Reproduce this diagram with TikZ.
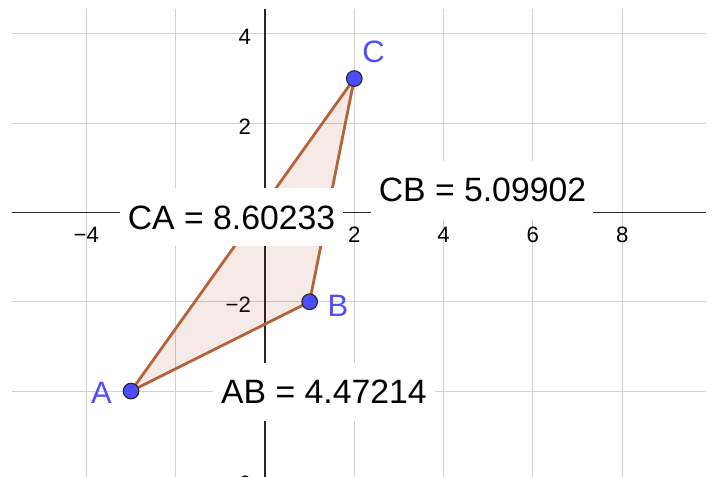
\documentclass[tikz,border=0pt]{standalone}
\usepackage{fontspec}
\setmainfont{Liberation Sans}
\definecolor{ptblue}{RGB}{77,77,255}
\definecolor{edgebrown}{RGB}{182,98,58}
\definecolor{polyfill}{RGB}{153,51,0}
\definecolor{gridgray}{RGB}{208,208,208}
\begin{document}
\begin{tikzpicture}[
x=1.116cm,
y=1.116cm,
tick/.style={
inner sep=0pt,
font=\fontsize{15.8}{18}\selectfont
},
valbox/.style={
rectangle,
fill=white,
inner sep=0pt,
minimum width=5.55cm,
minimum height=1.45cm,
font=\fontsize{24}{28}\selectfont
},
pt/.style={
circle,
draw=black!85,
line width=0.8pt,
fill=ptblue,
inner sep=0pt,
minimum size=0.39cm
},
ptlabel/.style={
inner sep=0pt,
text=ptblue,
font=\fontsize{22}{26}\selectfont
}
]

\useasboundingbox (-5.935,-5.924) rectangle (10.056,4.759);

% Grid
\foreach \gy in {-4,-2,2,4}
\draw[gridgray, line width=0.6pt] (-5.666,\gy) -- (9.877,\gy);
\foreach \gx in {-4,-2,2,4,6,8}
\draw[gridgray, line width=0.6pt] (\gx,-5.924) -- (\gx,4.557);

% Axes
\draw[black!85, line width=0.8pt] (-5.666,0) -- (9.877,0);
\draw[black!85, line width=0.8pt] (0,4.557) -- (0,-5.924);

% Tick labels
\foreach \tx/\tl in {-4/−4,2/2,4/4,6/6,8/8}
\node[tick] (xt\tx) at (\tx,-0.5) {\tl};
\foreach \ty/\tl in {4/4,2/2,-2/−2,-6/−6}
\node[tick, anchor=east] (yt\ty) at (-0.31,\ty-0.07) {\tl};

% Triangle
\coordinate (a) at (-3,-4);
\coordinate (b) at (1,-2);
\coordinate (c) at (2,3);
\fill[polyfill, fill opacity=0.1] (a) -- (b) -- (c) -- cycle;
\draw[edgebrown, line width=2pt, line join=round] (a) -- (b) -- (c) -- cycle;

% Side lengths
\node[valbox] (ca) at (-0.75,-0.11) {CA = 8.60233};
\node[valbox] (cb) at (4.87,0.50) {CB = 5.09902};
\node[valbox] (ab) at (1.32,-4.02) {AB = 4.47214};

% Points
\node[pt] (A) at (a) {};
\node[pt] (B) at (b) {};
\node[pt] (C) at (c) {};
\node[ptlabel] (labA) at (-3.662,-4.043) {A};
\node[ptlabel] (labB) at (1.635,-2.094) {B};
\node[ptlabel] (labC) at (2.43,3.606) {C};

\end{tikzpicture}
\end{document}
